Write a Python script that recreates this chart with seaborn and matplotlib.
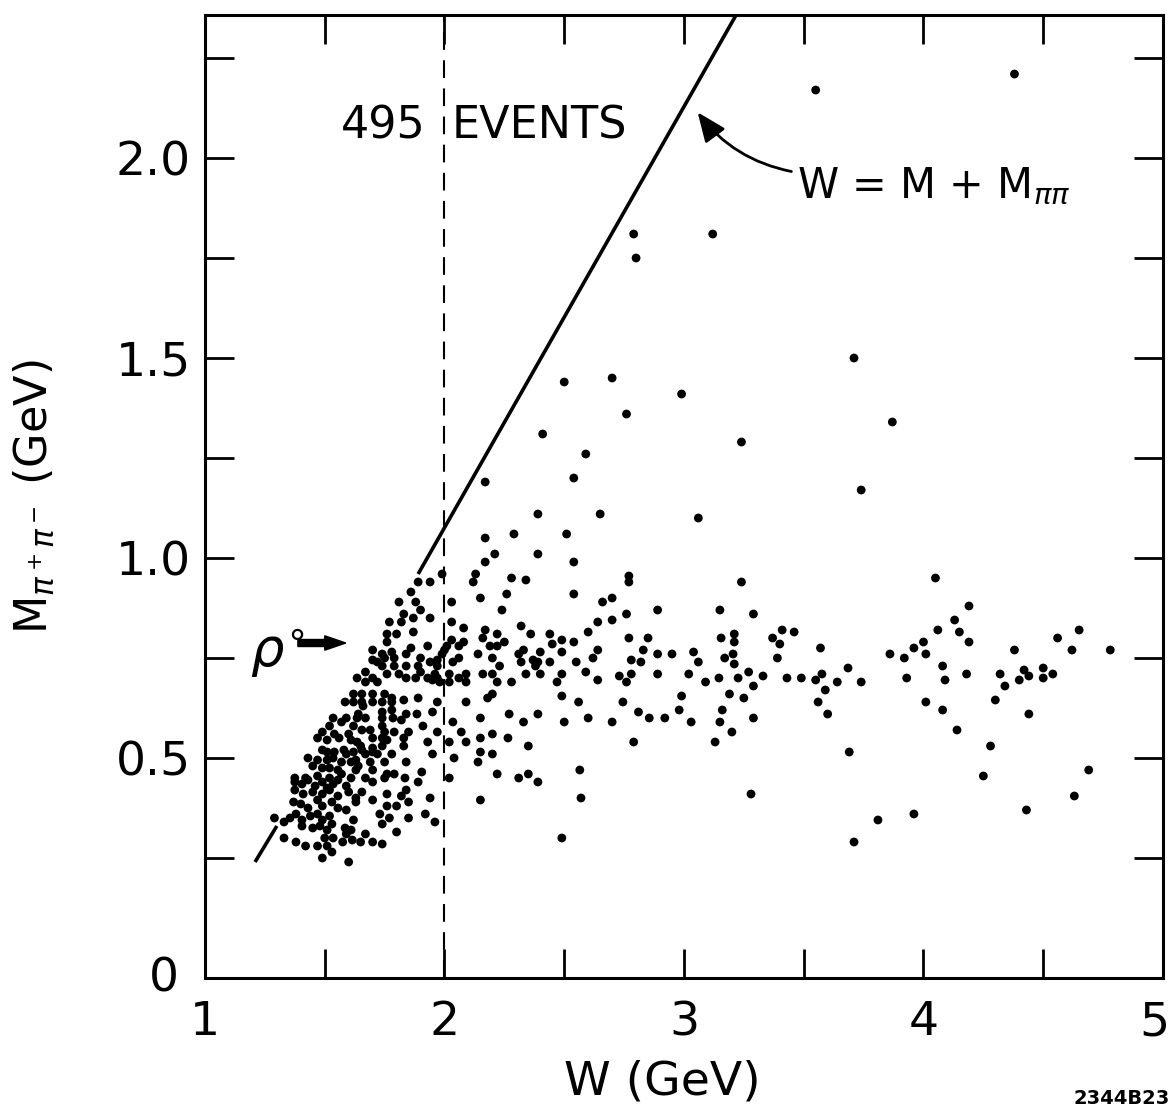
import matplotlib
matplotlib.use("Agg")
import matplotlib.pyplot as plt
import matplotlib.transforms as mtransforms
import pandas as pd
import seaborn as sns

# ---------------- data (W, M_pipi) in GeV ----------------
sparse_high = [(3.55, 2.17), (4.38, 2.21), (2.79, 1.81), (2.80, 1.75), (3.12, 1.81),
               (2.50, 1.44), (2.70, 1.45), (2.99, 1.41), (2.76, 1.36), (3.71, 1.50),
               (3.87, 1.34), (3.24, 1.29), (2.41, 1.31), (2.59, 1.26), (2.54, 1.20),
               (2.17, 1.19), (3.74, 1.17), (2.65, 1.11), (2.39, 1.11), (3.06, 1.10)]

mid_upper = [(2.29, 1.06), (2.17, 1.05), (2.51, 1.06), (2.21, 1.01), (2.17, 0.99), (2.39, 1.01),
             (2.54, 0.99), (2.28, 0.95), (2.34, 0.945), (2.77, 0.955), (2.77, 0.94), (2.15, 0.90),
             (2.26, 0.91), (2.54, 0.91), (2.66, 0.89), (2.70, 0.90), (2.24, 0.87), (2.89, 0.87),
             (2.76, 0.86), (2.64, 0.84), (2.70, 0.845), (2.17, 0.82), (2.32, 0.83), (2.60, 0.815),
             (2.22, 0.81), (2.36, 0.81), (2.44, 0.81), (2.77, 0.80), (2.85, 0.80), (2.16, 0.80),
             (2.25, 0.79), (2.49, 0.795), (2.54, 0.79), (2.45, 0.785), (2.19, 0.78), (2.22, 0.78),
             (2.83, 0.77), (2.89, 0.76), (2.95, 0.76), (3.04, 0.765), (2.33, 0.77), (2.40, 0.765),
             (2.49, 0.765), (2.64, 0.77), (2.62, 0.75), (2.31, 0.76), (2.20, 0.75), (2.37, 0.745),
             (2.39, 0.74), (2.38, 0.73), (2.44, 0.74), (2.55, 0.74), (2.78, 0.745), (2.82, 0.74),
             (3.06, 0.74), (2.32, 0.74), (2.23, 0.73), (2.16, 0.71), (2.20, 0.71), (2.34, 0.71),
             (2.40, 0.71), (2.49, 0.71), (2.59, 0.715), (2.73, 0.705), (2.78, 0.71), (2.89, 0.71),
             (3.02, 0.71)]

mid_lower = [(2.22, 0.69), (2.28, 0.69), (2.47, 0.69), (2.64, 0.695), (2.76, 0.69), (2.18, 0.65),
             (2.20, 0.66), (2.49, 0.655), (2.56, 0.64), (2.745, 0.64), (2.99, 0.655), (2.15, 0.60),
             (2.27, 0.61), (2.33, 0.59), (2.39, 0.61), (2.50, 0.59), (2.60, 0.60), (2.70, 0.59),
             (2.81, 0.615), (2.855, 0.60), (2.92, 0.60), (2.98, 0.62), (3.03, 0.59), (2.15, 0.55),
             (2.20, 0.56), (2.265, 0.55), (2.35, 0.53), (2.79, 0.54), (2.15, 0.515), (2.20, 0.51),
             (2.22, 0.46), (2.31, 0.45), (2.35, 0.46), (2.39, 0.44), (2.565, 0.47), (2.15, 0.395),
             (2.57, 0.40), (2.49, 0.30)]

tail_a = [(3.24, 0.94), (3.15, 0.87), (3.29, 0.86), (3.155, 0.80), (3.21, 0.81), (3.21, 0.79),
          (3.37, 0.80), (3.41, 0.82), (3.46, 0.815), (3.40, 0.785), (3.57, 0.775), (3.86, 0.76),
          (3.92, 0.75), (3.96, 0.775), (4.00, 0.79), (4.01, 0.76), (3.17, 0.75), (3.205, 0.76),
          (3.21, 0.735), (3.39, 0.75), (3.685, 0.725), (3.09, 0.69), (3.146, 0.70), (3.226, 0.70),
          (3.27, 0.715), (3.33, 0.705), (3.29, 0.68), (3.43, 0.70), (3.49, 0.70), (3.55, 0.695),
          (3.576, 0.71), (3.64, 0.69), (3.74, 0.69), (3.93, 0.70), (3.59, 0.67), (3.19, 0.66),
          (3.25, 0.65), (3.56, 0.64), (3.60, 0.61), (4.01, 0.64), (3.16, 0.62), (3.15, 0.59),
          (3.29, 0.60), (3.20, 0.565), (3.13, 0.54), (3.69, 0.515), (3.28, 0.41), (3.81, 0.345),
          (3.96, 0.36), (3.71, 0.29)]

tail_b = [(4.05, 0.95), (4.19, 0.88), (4.13, 0.845), (4.06, 0.82), (4.15, 0.815), (4.19, 0.79),
          (4.38, 0.77), (4.56, 0.80), (4.65, 0.82), (4.62, 0.77), (4.78, 0.77), (4.08, 0.73),
          (4.09, 0.695), (4.18, 0.71), (4.32, 0.71), (4.34, 0.68), (4.40, 0.695), (4.42, 0.72),
          (4.44, 0.705), (4.50, 0.725), (4.50, 0.70), (4.54, 0.71), (4.30, 0.645), (4.08, 0.62),
          (4.44, 0.61), (4.14, 0.57), (4.28, 0.53), (4.25, 0.455), (4.69, 0.47), (4.63, 0.405),
          (4.43, 0.37)]

ridge_upper = [(1.99, 0.96), (2.13, 0.96), (2.12, 0.94), (1.89, 0.94), (1.94, 0.94), (1.86, 0.915),
               (1.81, 0.89), (1.88, 0.89), (2.03, 0.89), (1.90, 0.87), (1.83, 0.86), (1.87, 0.85),
               (1.94, 0.85), (2.03, 0.84), (1.77, 0.84), (1.82, 0.84), (2.08, 0.825), (1.87, 0.815),
               (1.80, 0.81), (1.76, 0.81), (2.03, 0.795), (2.08, 0.79), (1.76, 0.79), (1.93, 0.78),
               (2.01, 0.78), (2.00, 0.77), (2.06, 0.78), (1.86, 0.775), (1.70, 0.77), (1.74, 0.76),
               (1.78, 0.765), (2.14, 0.76), (1.99, 0.76), (1.84, 0.76), (2.06, 0.75), (1.70, 0.745),
               (1.72, 0.74), (1.75, 0.75), (1.79, 0.75), (1.90, 0.75), (1.94, 0.74), (1.97, 0.745),
               (2.035, 0.74), (1.74, 0.73), (1.79, 0.73), (1.84, 0.73), (1.89, 0.73), (1.97, 0.73)]

ridge_lower = [(1.76, 0.71), (1.81, 0.71), (1.84, 0.70), (1.88, 0.70), (1.90, 0.715), (1.93, 0.70),
               (1.95, 0.695), (1.96, 0.71), (1.97, 0.70), (1.98, 0.69), (2.02, 0.71), (2.02, 0.69),
               (2.06, 0.70), (2.09, 0.71), (2.09, 0.69), (1.70, 0.70), (1.72, 0.69), (1.70, 0.66),
               (1.75, 0.66), (1.74, 0.64), (1.78, 0.65), (1.78, 0.64), (1.83, 0.645), (1.89, 0.65),
               (1.97, 0.64), (2.09, 0.64), (1.70, 0.64), (1.74, 0.615), (1.74, 0.60), (1.78, 0.62),
               (1.84, 0.61), (1.885, 0.61), (1.95, 0.615), (1.785, 0.60), (1.82, 0.595), (1.91, 0.58),
               (1.97, 0.565), (2.035, 0.59), (1.74, 0.58), (1.75, 0.565), (1.79, 0.565), (1.85, 0.565),
               (2.07, 0.565), (1.70, 0.55), (1.70, 0.525), (1.74, 0.55), (1.76, 0.545), (1.83, 0.55),
               (1.93, 0.54), (2.02, 0.54), (2.09, 0.54), (1.74, 0.53), (1.83, 0.53), (1.70, 0.515),
               (1.72, 0.51), (1.78, 0.51), (1.95, 0.51), (2.04, 0.50), (2.14, 0.49), (1.75, 0.49),
               (1.84, 0.49), (1.70, 0.47), (1.76, 0.46), (1.79, 0.46), (1.835, 0.45), (1.905, 0.465),
               (2.02, 0.45), (1.75, 0.45), (1.89, 0.44), (1.70, 0.44), (1.84, 0.42), (1.76, 0.41),
               (1.82, 0.405), (1.70, 0.395), (1.94, 0.40), (1.85, 0.39), (1.76, 0.38), (1.80, 0.38),
               (1.73, 0.36), (1.92, 0.36), (1.77, 0.35), (1.85, 0.35), (1.96, 0.34), (1.74, 0.335),
               (1.80, 0.315), (1.70, 0.29), (1.74, 0.285)]

core = [(1.67, 0.715), (1.635, 0.70), (1.67, 0.69), (1.62, 0.66), (1.655, 0.66), (1.585, 0.64),
        (1.62, 0.64), (1.655, 0.64), (1.66, 0.63), (1.64, 0.61), (1.67, 0.60), (1.535, 0.60),
        (1.59, 0.60), (1.635, 0.60), (1.52, 0.58), (1.57, 0.59), (1.62, 0.58), (1.655, 0.57),
        (1.69, 0.57), (1.49, 0.565), (1.54, 0.56), (1.60, 0.56), (1.47, 0.55), (1.51, 0.545),
        (1.56, 0.55), (1.61, 0.545), (1.635, 0.54), (1.65, 0.53), (1.49, 0.52), (1.51, 0.515),
        (1.54, 0.515), (1.58, 0.52), (1.59, 0.51), (1.62, 0.515), (1.63, 0.495), (1.655, 0.52),
        (1.67, 0.51), (1.43, 0.50), (1.47, 0.495), (1.51, 0.495), (1.535, 0.50), (1.57, 0.49),
        (1.61, 0.49), (1.64, 0.48), (1.69, 0.49), (1.45, 0.48), (1.49, 0.475), (1.52, 0.475),
        (1.555, 0.47), (1.375, 0.45), (1.42, 0.45), (1.47, 0.455), (1.52, 0.45), (1.57, 0.46),
        (1.61, 0.45), (1.63, 0.47), (1.67, 0.45)]

base = [(1.375, 0.44), (1.405, 0.435), (1.43, 0.445), (1.46, 0.43), (1.49, 0.44), (1.51, 0.425),
        (1.535, 0.435), (1.555, 0.445), (1.59, 0.43), (1.375, 0.42), (1.41, 0.41), (1.45, 0.415),
        (1.49, 0.41), (1.52, 0.42), (1.555, 0.405), (1.60, 0.415), (1.63, 0.40), (1.655, 0.415),
        (1.37, 0.39), (1.40, 0.385), (1.43, 0.375), (1.47, 0.395), (1.49, 0.38), (1.53, 0.39),
        (1.555, 0.375), (1.59, 0.37), (1.63, 0.39), (1.355, 0.35), (1.38, 0.36), (1.405, 0.345),
        (1.44, 0.355), (1.47, 0.36), (1.49, 0.345), (1.52, 0.355), (1.29, 0.35), (1.33, 0.34),
        (1.405, 0.33), (1.45, 0.325), (1.48, 0.33), (1.51, 0.32), (1.53, 0.335), (1.585, 0.325),
        (1.61, 0.32), (1.59, 0.31), (1.62, 0.345), (1.67, 0.31), (1.33, 0.30), (1.38, 0.29),
        (1.42, 0.28), (1.50, 0.30), (1.535, 0.30), (1.47, 0.28), (1.51, 0.28), (1.575, 0.29),
        (1.615, 0.295), (1.65, 0.29), (1.53, 0.265), (1.49, 0.25), (1.60, 0.24)]

# kinematic boundary W = M + M_pipi (drawn pieces)
boundary_low_w = [1.209, 1.30]
boundary_low_m = [0.24, 0.33]
boundary_high_w = [1.89, 3.22]
boundary_high_m = [0.96, 2.36]

x_ticks = [1, 1.5, 2, 2.5, 3, 3.5, 4, 4.5, 5]
x_ticklabels = ["1", "", "2", "", "3", "", "4", "", "5"]
y_ticks = [0, 0.25, 0.5, 0.75, 1.0, 1.25, 1.5, 1.75, 2.0, 2.25]
y_ticklabels = ["0", "", "0.5", "", "1.0", "", "1.5", "", "2.0", ""]

# ---------------- plot ----------------
sns.set_style("ticks")
plt.rcParams["font.family"] = ["DejaVu Sans"]
plt.rcParams["mathtext.fontset"] = "dejavusans"
plt.rcParams["text.color"] = "black"
plt.rcParams["axes.labelcolor"] = "black"
plt.rcParams["xtick.color"] = "black"
plt.rcParams["ytick.color"] = "black"

points = sparse_high + mid_upper + mid_lower + tail_a + tail_b + ridge_upper + ridge_lower + core + base
df = pd.DataFrame(points, columns=["W", "M"])

fig = plt.figure(figsize=(11.74, 11.13), dpi=100)
ax = fig.add_axes([0.1746, 0.1213, 0.8160, 0.8652])

sns.scatterplot(data=df, x="W", y="M", ax=ax, color="black", s=40,
                edgecolor="none", linewidth=0, legend=False, zorder=3)

ax.plot(boundary_low_w, boundary_low_m, color="black", lw=2.6, solid_capstyle="butt")
ax.plot(boundary_high_w, boundary_high_m, color="black", lw=2.6, solid_capstyle="butt")
ax.axvline(2.0, color="black", lw=1.5, dashes=(8.5, 5))

ax.set_xlim(1, 5)
ax.set_ylim(-0.05, 2.3575)
ax.set_xticks(x_ticks)
ax.set_xticklabels(x_ticklabels)
ax.set_yticks(y_ticks)
ax.set_yticklabels(y_ticklabels)
ax.tick_params(direction="in", length=21, width=2.0, top=True, right=True,
               labelsize=34, colors="black", labelcolor="black")
ax.tick_params(axis="x", pad=16)
ax.tick_params(axis="y", pad=10)
for sp in ax.spines.values():
    sp.set_linewidth(2.2)
    sp.set_color("black")

# the zero tick carries only its label in the reference
zero_tick = ax.yaxis.get_major_ticks()[0]
zero_tick.tick1line.set_visible(False)
zero_tick.tick2line.set_visible(False)

# small offsets of individual tick labels as in the reference
xlabels = ax.get_xticklabels()
xlabels[-1].set_transform(xlabels[-1].get_transform()
                          + mtransforms.ScaledTranslation(-9 / 100, 0, fig.dpi_scale_trans))
ylabels = ax.get_yticklabels()
ylabels[0].set_transform(ylabels[0].get_transform()
                         + mtransforms.ScaledTranslation(-12 / 100, -16 / 100, fig.dpi_scale_trans))

ax.set_xlabel("W (GeV)", fontsize=34, color="black")
ax.xaxis.set_label_coords(0.477, -0.085)
ax.set_ylabel(r"M$_{\pi^+\pi^-}$ (GeV)", fontsize=32, color="black")
ax.yaxis.set_label_coords(-0.155, 0.50)

ax.text(1.92, 2.08, "495", fontsize=32, ha="right", va="center")
ax.text(2.03, 2.08, "EVENTS", fontsize=32, ha="left", va="center")
ax.text(3.47, 1.93, r"W = M + M$_{\pi\pi}$", fontsize=30, ha="left", va="center")
ax.annotate("", xy=(3.05, 2.12), xytext=(3.46, 1.965),
            arrowprops=dict(arrowstyle="-|>,head_length=0.6,head_width=0.25",
                            connectionstyle="arc3,rad=-0.2", lw=2, color="black",
                            mutation_scale=30))

ax.text(1.19, 0.76, r"$\rho^{\circ}$", fontsize=38, ha="left", va="center")
ax.arrow(1.388, 0.7875, 0.112, 0, width=0.0175, head_width=0.036, head_length=0.088,
         color="black", length_includes_head=False)

fig.text(1170 / 1174, 1 - 1098 / 1113, "2344B23", fontsize=14, fontweight="bold",
         ha="right", va="center")

fig.savefig("out.png", dpi=100)
